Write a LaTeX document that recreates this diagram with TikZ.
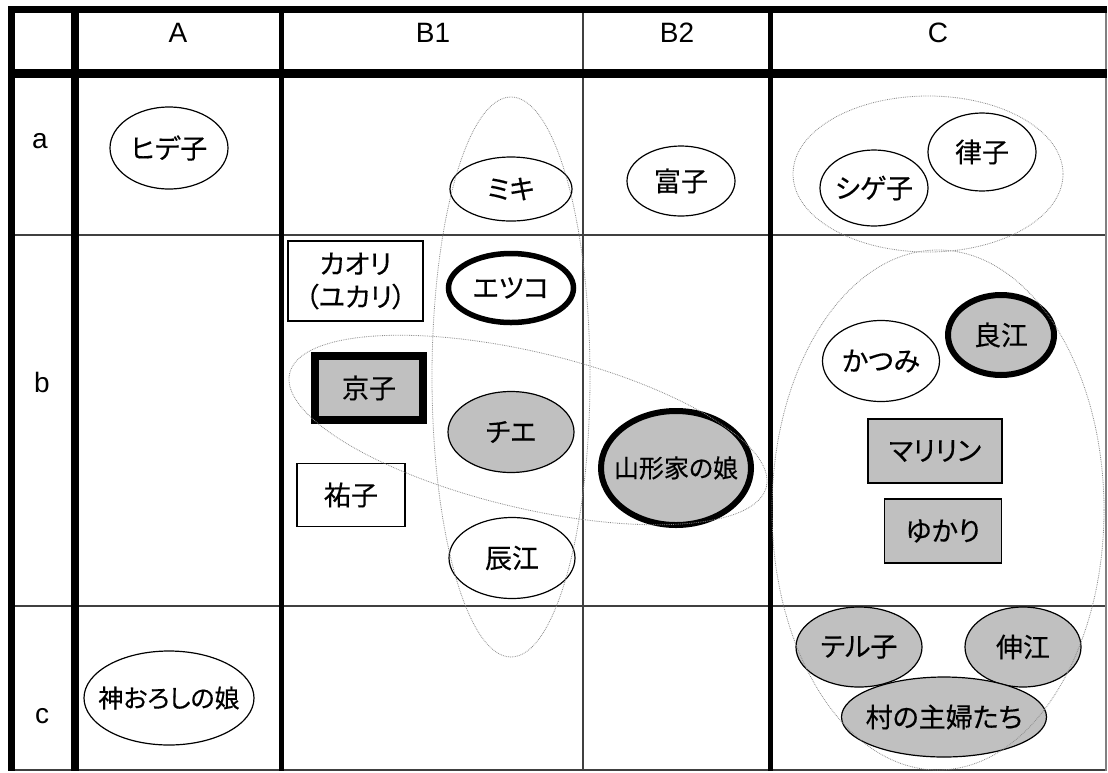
\documentclass[tikz,border=0pt]{standalone}
\usepackage{fontspec}
\setmainfont{Liberation Sans}
\newfontfamily\jp[RawFeature=+palt, FakeBold=0.4]{Noto Sans CJK JP}
\usetikzlibrary{shapes.geometric}
\definecolor{boxgray}{HTML}{C0C0C0}
\definecolor{thinline}{HTML}{404040}
\definecolor{dotgray}{HTML}{8A8A8A}
\tikzset{
  lbl/.style={font=\fontsize{28}{32}\selectfont, inner sep=0pt},
  oval/.style={ellipse, draw=black, line width=1.2pt, inner xsep=-40pt, inner ysep=-20pt, font=\jp\fontsize{27}{30}\selectfont},
  thickoval/.style={oval, line width=5.5pt},
  shaded/.style={fill=boxgray},
  namebox/.style={rectangle, draw=black, line width=1.2pt, inner sep=0pt, align=center, font=\jp\fontsize{27}{33}\selectfont},
  group/.style={ellipse, draw=dotgray, densely dotted, line width=0.8pt, inner sep=0pt},
  thickrule/.style={line width=7pt, black},
  midrule/.style={line width=5pt, black},
  thinrule/.style={line width=1.2pt, thinline}
}
\begin{document}
\begin{tikzpicture}[x=1pt, y=-1pt]
\useasboundingbox (0,0) rectangle (1108,772);
% grid
\coordinate (tl) at (8,9.5); \coordinate (tr) at (1107,9.5);
\coordinate (hl) at (8,73.5); \coordinate (hr) at (1107,73.5);
\draw[thinrule] (8,235) -- (1107,235);
\draw[thinrule] (8,606) -- (1107,606);
\draw[thinrule] (8,770) -- (1107,770);
\draw[thinrule, gray] (1106,7) -- (1106,771);
\draw[thinrule] (583,10) -- (583,770);
\draw[thickrule] (tl) -- (tr);
\draw[line width=8.5pt] (hl) -- (hr);
\draw[thickrule] (11.5,6) -- (11.5,771);
\draw[line width=8pt] (75,6) -- (75,771);
\draw[midrule] (281.5,6) -- (281.5,771);
\draw[midrule] (770,6) -- (770,771);
% header labels
\node[lbl] (hA) at (178,33) {A};
\node[lbl] (hB1) at (433,33) {B1};
\node[lbl] (hB2) at (677,33) {B2};
\node[lbl] (hC) at (938,33) {C};
\node[lbl] (ra) at (40,141) {a};
\node[lbl] (rb) at (42,382) {b};
\node[lbl] (rc) at (42,716) {c};
% row a
\node[oval, minimum width=118pt, minimum height=82pt] (hideko) at (169,148) {ヒデ子};
\node[oval, minimum width=122pt, minimum height=64pt] (miki) at (511,189) {ミキ};
\node[oval, minimum width=108pt, minimum height=70pt] (tomiko) at (681,181) {富子};
\node[oval, minimum width=108pt, minimum height=78pt] (ritsuko) at (982,152) {律子};
\node[oval, minimum width=108pt, minimum height=76pt] (shigeko) at (874,188) {シゲ子};
% row b
\node[namebox, minimum width=135pt, minimum height=80pt] (kaori) at (355.5,281) {カオリ\\（ユカリ）};
\node[thickoval, minimum width=125pt, minimum height=69pt] (etsuko) at (511,288) {エツコ};
\node[namebox, shaded, line width=8pt, minimum width=108pt, minimum height=64pt] (kyoko) at (369,388) {京子};
\node[oval, shaded, minimum width=126pt, minimum height=81pt] (chie) at (511,432) {チエ};
\node[thickoval, shaded, line width=6pt, minimum width=150pt, minimum height=114pt, font=\jp\fontsize{25}{30}\selectfont] (yamagata) at (676,468) {山形家の娘};
\node[namebox, minimum width=108pt, minimum height=63pt] (yuko) at (351,495) {祐子};
\node[oval, minimum width=126pt, minimum height=81pt] (tatsue) at (512,558) {辰江};
\node[oval, minimum width=117pt, minimum height=81pt] (katsumi) at (881,361) {かつみ};
\node[thickoval, shaded, line width=6pt, minimum width=106pt, minimum height=80pt] (yoshie) at (1001,335) {良江};
\node[namebox, shaded, minimum width=134pt, minimum height=64pt] (marilyn) at (935,451) {マリリン};
\node[namebox, shaded, minimum width=117pt, minimum height=64pt] (yukari) at (943,531) {ゆかり};
% row c
\node[oval, minimum width=170pt, minimum height=94pt, font=\jp\fontsize{25}{30}\selectfont] (kamioroshi) at (169,698) {神おろしの娘};
\node[oval, shaded, minimum width=126pt, minimum height=80pt] (teruko) at (859,647) {テル子};
\node[oval, shaded, minimum width=116pt, minimum height=80pt] (nobue) at (1023,647) {伸江};
\node[oval, shaded, minimum width=205pt, minimum height=80pt] (mura) at (944,717) {村の主婦たち};
% dotted groups
\node[group, minimum width=270pt, minimum height=156pt] (grpCa) at (928,174) {};
\node[group, minimum width=158pt, minimum height=560pt] (grpB1) at (511,377) {};
\node[group, minimum width=490pt, minimum height=156pt, rotate=-13.4] (grpDiag) at (528,430) {};
\node[group, minimum width=332pt, minimum height=520pt] (grpC) at (938,510) {};
\end{tikzpicture}
\end{document}
